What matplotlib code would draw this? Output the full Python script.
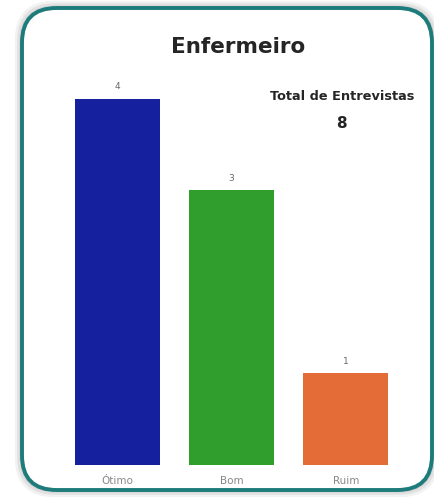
import matplotlib.pyplot as plt
from matplotlib.patches import FancyBboxPatch

categorias = ["Ótimo", "Bom", "Ruim"]
valores = [4, 3, 1]
cores = ["#15209f", "#2f9e2c", "#e36c37"]
total = sum(valores)

W, H = 434, 497
fig = plt.figure(figsize=(W / 100, H / 100), dpi=100)
fig.patch.set_facecolor("white")

def px(x, y):
    # pixel coords from top-left -> figure fraction
    return x / W, 1 - y / H

# shadow + rounded frame
for off, alpha in [(6, 0.10), (4, 0.15), (2, 0.2)]:
    x0, y0 = px(22 - off / 2, 490 + off / 2)
    sh = FancyBboxPatch((x0, y0), (410 + off) / W, (482 + off) / H,
                        boxstyle="round,pad=0,rounding_size=0.08",
                        transform=fig.transFigure, facecolor="none",
                        edgecolor="#808080", linewidth=off, alpha=alpha,
                        mutation_aspect=W / H, zorder=-2)
    fig.patches.append(sh)
x0, y0 = px(22, 490)
box = FancyBboxPatch((x0, y0), 410 / W, 482 / H,
                     boxstyle="round,pad=0,rounding_size=0.08",
                     transform=fig.transFigure, facecolor="white",
                     edgecolor="#1d7b7b", linewidth=2.8,
                     mutation_aspect=W / H, zorder=-1)
fig.patches.append(box)

left, bottom = px(60, 465)
ax = fig.add_axes([left, bottom, 343 / W, 412 / H])
ax.set_facecolor("none")
ax.set_zorder(1)
x = range(len(categorias))
bars = ax.bar(x, valores, width=0.745, color=cores)
ax.set_xlim(-0.5, 2.5)
ax.set_ylim(0, 4.5)
for b, v in zip(bars, valores):
    ax.text(b.get_x() + b.get_width() / 2, v + 0.08, str(v), ha="center",
            va="bottom", fontsize=6.5, color="#666666")
ax.set_xticks(list(x))
ax.set_xticklabels(categorias, fontsize=7.5, color="#888888")
ax.tick_params(axis="x", length=0, pad=8)
ax.set_yticks([])
for s in ax.spines.values():
    s.set_visible(False)

fig.text(*px(238, 47), "Enfermeiro", ha="center", va="center",
         fontsize=15.5, fontweight="bold", color="#252525")
fig.text(*px(342, 97), "Total de Entrevistas", ha="center", va="center",
         fontsize=9.3, fontweight="bold", color="#252525")
fig.text(*px(341, 124), str(total), ha="center", va="center",
         fontsize=11, fontweight="semibold", color="#252525")

fig.savefig("out.png", dpi=100)
